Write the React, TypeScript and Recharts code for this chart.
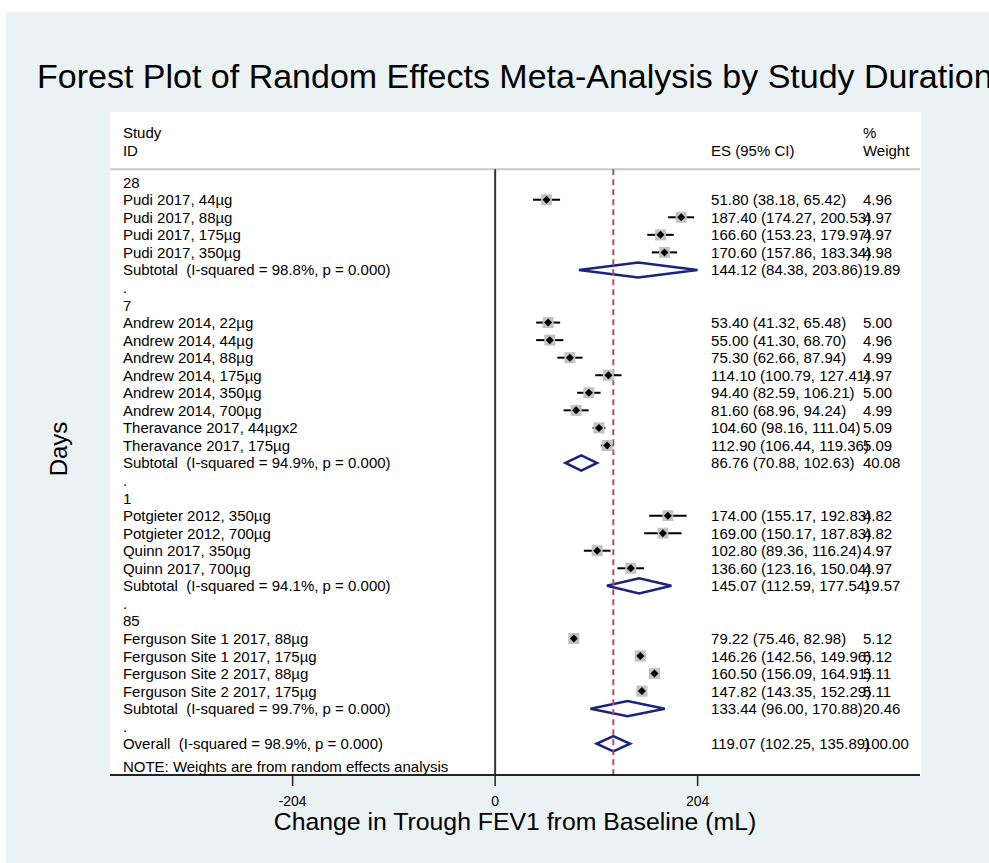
import {
  ScatterChart,
  Scatter,
  XAxis,
  YAxis,
  ErrorBar,
  ReferenceLine,
  ReferenceArea,
} from "recharts";

const FONT = '"Liberation Sans", Arial, Helvetica, sans-serif';

// duration groups (days)
const groupNames = ["28", "7", "1", "85"];
const groupISq = ["98.8%", "94.9%", "94.1%", "99.7%"];

const studyNames = [
  "Pudi 2017, 44µg",
  "Pudi 2017, 88µg",
  "Pudi 2017, 175µg",
  "Pudi 2017, 350µg",
  "Andrew 2014, 22µg",
  "Andrew 2014, 44µg",
  "Andrew 2014, 88µg",
  "Andrew 2014, 175µg",
  "Andrew 2014, 350µg",
  "Andrew 2014, 700µg",
  "Theravance 2017, 44µgx2",
  "Theravance 2017, 175µg",
  "Potgieter 2012, 350µg",
  "Potgieter 2012, 700µg",
  "Quinn 2017, 350µg",
  "Quinn 2017, 700µg",
  "Ferguson Site 1 2017, 88µg",
  "Ferguson Site 1 2017, 175µg",
  "Ferguson Site 2 2017, 88µg",
  "Ferguson Site 2 2017, 175µg",
];
const studyGroup = [0, 0, 0, 0, 1, 1, 1, 1, 1, 1, 1, 1, 2, 2, 2, 2, 3, 3, 3, 3];
const studyES = [51.8, 187.4, 166.6, 170.6, 53.4, 55.0, 75.3, 114.1, 94.4, 81.6, 104.6, 112.9, 174.0, 169.0, 102.8, 136.6, 79.22, 146.26, 160.5, 147.82];
const studyLCI = [38.18, 174.27, 153.23, 157.86, 41.32, 41.3, 62.66, 100.79, 82.59, 68.96, 98.16, 106.44, 155.17, 150.17, 89.36, 123.16, 75.46, 142.56, 156.09, 143.35];
const studyUCI = [65.42, 200.53, 179.97, 183.34, 65.48, 68.7, 87.94, 127.41, 106.21, 94.24, 111.04, 119.36, 192.83, 187.83, 116.24, 150.04, 82.98, 149.96, 164.91, 152.29];
const studyWeight = [4.96, 4.97, 4.97, 4.98, 5.0, 4.96, 4.99, 4.97, 5.0, 4.99, 5.09, 5.09, 4.82, 4.82, 4.97, 4.97, 5.12, 5.12, 5.11, 5.11];

const subES = [144.12, 86.76, 145.07, 133.44];
const subLCI = [84.38, 70.88, 112.59, 96.0];
const subUCI = [203.86, 102.63, 177.54, 170.88];
const subWeight = [19.89, 40.08, 19.57, 20.46];

const overallES = 119.07;
const overallLCI = 102.25;
const overallUCI = 135.89;
const overallWeight = 100.0;
const overallISq = "98.9%";

const xTicks = [-204, 0, 204];

// layout in axis units
const X_DOMAIN: [number, number] = [-388, 428];
const Y_DOMAIN: [number, number] = [-4, 33.78];
const LABEL_X = -375;
const ES_X = 217.5;
const WT_X = 370.5;
const HEAD1_Y = -2.84;
const HEAD2_Y = -1.83;
const SEP_Y = -0.735;
const NOTE_Y = 33.32;
const DIAMOND_H = 0.43;
const TEXT_SIZE = 15;

type Row = {
  row: number;
  kind: "group" | "study" | "sub" | "gap" | "overall";
  label: string;
  es?: number;
  lci?: number;
  uci?: number;
  w?: number;
};

const rows: Row[] = [];
let r = 0;
groupNames.forEach((g, gi) => {
  rows.push({ row: r++, kind: "group", label: g });
  studyNames.forEach((name, si) => {
    if (studyGroup[si] !== gi) return;
    rows.push({
      row: r++,
      kind: "study",
      label: name,
      es: studyES[si],
      lci: studyLCI[si],
      uci: studyUCI[si],
      w: studyWeight[si],
    });
  });
  rows.push({
    row: r++,
    kind: "sub",
    label: `Subtotal  (I-squared = ${groupISq[gi]}, p = 0.000)`,
    es: subES[gi],
    lci: subLCI[gi],
    uci: subUCI[gi],
    w: subWeight[gi],
  });
  rows.push({ row: r++, kind: "gap", label: "." });
});
rows.push({
  row: r++,
  kind: "overall",
  label: `Overall  (I-squared = ${overallISq}, p = 0.000)`,
  es: overallES,
  lci: overallLCI,
  uci: overallUCI,
  w: overallWeight,
});

const studyPts = rows
  .filter((d) => d.kind === "study")
  .map((d) => ({
    x: d.es!,
    y: d.row,
    w: d.w!,
    err: [d.es! - d.lci!, d.uci! - d.es!],
  }));

const diamonds = rows.filter((d) => d.kind === "sub" || d.kind === "overall");

const labelText = [
  { x: LABEL_X, y: HEAD1_Y, text: "Study" },
  { x: LABEL_X, y: HEAD2_Y, text: "ID" },
  ...rows.map((d) => ({ x: LABEL_X, y: d.row, text: d.label })),
  { x: LABEL_X, y: NOTE_Y, text: "NOTE: Weights are from random effects analysis" },
];

const esText = [
  { x: ES_X, y: HEAD2_Y, text: "ES (95% CI)" },
  ...rows
    .filter((d) => d.es !== undefined)
    .map((d) => ({
      x: ES_X,
      y: d.row,
      text: `${d.es!.toFixed(2)} (${d.lci!.toFixed(2)}, ${d.uci!.toFixed(2)})`,
    })),
];

const wtText = [
  { x: WT_X, y: HEAD1_Y, text: "%" },
  { x: WT_X, y: HEAD2_Y, text: "Weight" },
  ...rows
    .filter((d) => d.w !== undefined)
    .map((d) => ({ x: WT_X, y: d.row, text: d.w!.toFixed(2) })),
];

const TextShape = (p: any) => (
  <text
    x={p.cx}
    y={p.cy}
    dominantBaseline="central"
    fontSize={TEXT_SIZE}
    fontFamily={FONT}
    fill="#000"
    style={{ whiteSpace: "pre" }}
  >
    {p.payload.text}
  </text>
);

const BoxShape = (p: any) => {
  const s = 11 * Math.sqrt(p.payload.w / 5);
  return <rect x={p.cx - s / 2} y={p.cy - s / 2} width={s} height={s} fill="#c2c2c2" />;
};

const PointShape = (p: any) => (
  <polygon
    points={`${p.cx - 4},${p.cy} ${p.cx},${p.cy - 4} ${p.cx + 4},${p.cy} ${p.cx},${p.cy + 4}`}
    fill="#000"
  />
);

export default function App() {
  return (
    <div
      style={{
        position: "absolute",
        left: 0,
        top: 0,
        width: 989,
        height: 863,
        background: "#fff",
        overflow: "hidden",
        fontFamily: FONT,
      }}
    >
      <div style={{ position: "absolute", left: 6, top: 12, right: 0, bottom: 0, background: "#eaf2f3" }} />
      <div style={{ position: "absolute", left: 110, top: 112, width: 811, height: 664, background: "#fff" }} />
      <div style={{ position: "absolute", left: 0, top: 0 }}>
        <ScatterChart width={989} height={863} margin={{ top: 112, right: 69, bottom: 0, left: 110 }}>
          <XAxis
            type="number"
            dataKey="x"
            domain={X_DOMAIN}
            ticks={xTicks}
            allowDataOverflow
            axisLine={{ stroke: "#222", strokeWidth: 2 }}
            tickLine={{ stroke: "#222", strokeWidth: 1.5 }}
            tickSize={11}
            tickMargin={10}
            height={88}
            tick={{ fontSize: 14, fill: "#000", fontFamily: FONT }}
            label={{
              value: "Change in Trough FEV1 from Baseline (mL)",
              position: "insideBottom",
              offset: 33,
              fontSize: 24.8,
              fill: "#000",
              fontFamily: FONT,
            }}
          />
          <YAxis type="number" dataKey="y" domain={Y_DOMAIN} reversed hide width={0} allowDataOverflow />

          {/* header separator, null line, overall effect line */}
          <ReferenceLine
            segment={[
              { x: X_DOMAIN[0], y: SEP_Y },
              { x: X_DOMAIN[1], y: SEP_Y },
            ]}
            stroke="#c8c8c8"
            strokeWidth={2}
            ifOverflow="visible"
          />
          <ReferenceLine
            segment={[
              { x: 0, y: SEP_Y },
              { x: 0, y: Y_DOMAIN[1] },
            ]}
            stroke="#333"
            strokeWidth={2}
          />
          <ReferenceLine
            segment={[
              { x: overallES, y: SEP_Y },
              { x: overallES, y: Y_DOMAIN[1] },
            ]}
            stroke="#a8545c"
            strokeWidth={2}
            strokeDasharray="6 4"
          />

          {diamonds.map((d, i) => {
            const frac = (d.es! - d.lci!) / (d.uci! - d.lci!);
            return (
              <ReferenceArea
                key={"dm" + i}
                x1={d.lci}
                x2={d.uci}
                y1={d.row - DIAMOND_H}
                y2={d.row + DIAMOND_H}
                ifOverflow="visible"
                shape={(p: any) => {
                  const cx = p.x + frac * p.width;
                  const my = p.y + p.height / 2;
                  return (
                    <polygon
                      points={`${p.x},${my} ${cx},${p.y} ${p.x + p.width},${my} ${cx},${p.y + p.height}`}
                      fill="none"
                      stroke="#1c237e"
                      strokeWidth={2.5}
                      strokeLinejoin="miter"
                    />
                  );
                }}
              />
            );
          })}

          <Scatter data={studyPts} shape={BoxShape} isAnimationActive={false} />
          <Scatter data={studyPts} shape={PointShape} isAnimationActive={false}>
            <ErrorBar dataKey="err" direction="x" width={0} stroke="#000" strokeWidth={2} />
          </Scatter>

          <Scatter data={labelText} shape={TextShape} isAnimationActive={false} />
          <Scatter data={esText} shape={TextShape} isAnimationActive={false} />
          <Scatter data={wtText} shape={TextShape} isAnimationActive={false} />
        </ScatterChart>
      </div>
      <svg width={989} height={863} style={{ position: "absolute", left: 0, top: 0, pointerEvents: "none" }}>
        <text x={37} y={87.5} fontSize={34} fontFamily={FONT} fill="#000">
          Forest Plot of Random Effects Meta-Analysis by Study Duration
        </text>
        <text x={67} y={449} fontSize={24} fontFamily={FONT} fill="#000" textAnchor="middle" transform="rotate(-90 67 449)">
          Days
        </text>
      </svg>
    </div>
  );
}
